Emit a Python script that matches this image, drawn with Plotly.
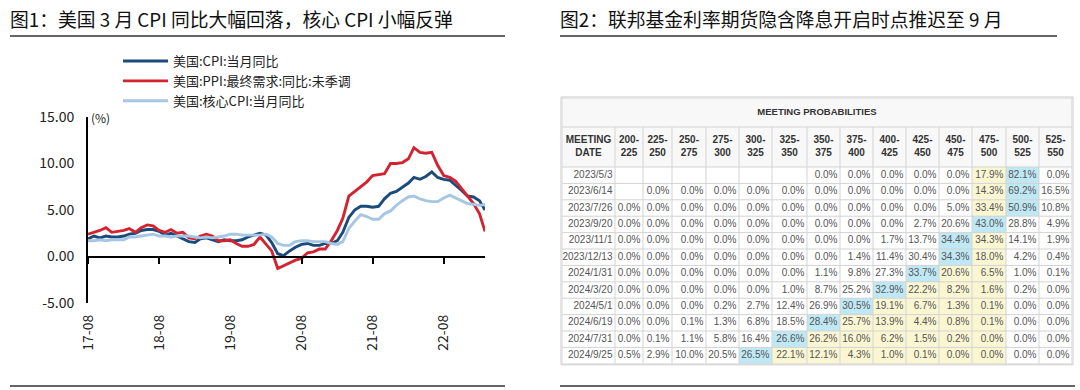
import plotly.graph_objects as go
import pandas as pd

# ---------------- Left chart data (monthly, 2017-08 .. 2023-03) ----------------
start_month = "2017-08-01"
cpi = [1.9, 2.2, 2.0, 2.2, 2.1,
       2.1, 2.2, 2.4, 2.5, 2.8, 2.9, 2.9, 2.7, 2.3, 2.5, 2.2, 1.9,
       1.6, 1.5, 1.9, 2.0, 1.8, 1.6, 1.8, 1.7, 1.7, 1.8, 2.1, 2.3,
       2.5, 2.3, 1.5, 0.3, 0.1, 0.6, 1.0, 1.3, 1.4, 1.2, 1.2, 1.4,
       1.4, 1.7, 2.6, 4.2, 5.0, 5.4, 5.4, 5.3, 5.4, 6.2, 6.8, 7.0,
       7.5, 7.9, 8.5, 8.3, 8.6, 9.1, 8.5, 8.3, 8.2, 7.7, 7.1, 6.5,
       6.4, 6.0, 5.0]
ppi = [2.4, 2.6, 2.8, 3.1, 2.6,
       2.7, 2.8, 3.0, 2.6, 3.1, 3.4, 3.3, 2.8, 2.6, 2.9, 2.5, 2.6,
       2.0, 1.9, 2.2, 2.4, 2.2, 1.7, 1.7, 1.8, 1.4, 1.1, 1.1, 1.3,
       2.1, 1.3, 0.6, -1.3, -1.0, -0.7, -0.4, -0.2, 0.4, 0.5, 0.8, 0.8,
       1.7, 2.8, 4.1, 6.5, 7.0, 7.6, 8.0, 8.7, 8.8, 8.9, 10.0, 10.0,
       10.1, 10.5, 11.7, 11.2, 11.1, 11.2, 9.8, 8.7, 8.5, 8.1, 7.3, 6.5,
       5.7, 4.6, 2.7]
core = [1.7, 1.7, 1.8, 1.7, 1.8,
        1.8, 1.8, 2.1, 2.1, 2.2, 2.3, 2.4, 2.2, 2.2, 2.1, 2.2, 2.2,
        2.2, 2.1, 2.0, 2.1, 2.0, 2.1, 2.2, 2.4, 2.4, 2.3, 2.3, 2.3,
        2.3, 2.4, 2.1, 1.4, 1.2, 1.2, 1.6, 1.7, 1.7, 1.6, 1.6, 1.6,
        1.4, 1.3, 1.6, 3.0, 3.8, 4.5, 4.3, 4.0, 4.0, 4.6, 4.9, 5.5,
        6.0, 6.4, 6.5, 6.2, 6.0, 5.9, 5.9, 6.3, 6.6, 6.3, 6.0, 5.7,
        5.6, 5.5, 5.6]
series_names = ["美国:CPI:当月同比", "美国:PPI:最终需求:同比:未季调", "美国:核心CPI:当月同比"]
x_tick_vals = ["2017-08-01", "2018-08-01", "2019-08-01", "2020-08-01", "2021-08-01", "2022-08-01"]
x_tick_text = ["17-08", "18-08", "19-08", "20-08", "21-08", "22-08"]
y_tick_vals = [-5, 0, 5, 10, 15]
y_tick_text = ["-5.00", "0.00", "5.00", "10.00", "15.00"]

# ---------------- Right table data ----------------
table_title = "MEETING PROBABILITIES"
first_col_header = "MEETING<br>DATE"
rate_bins = ["200-225", "225-250", "250-275", "275-300", "300-325", "325-350", "350-375",
             "375-400", "400-425", "425-450", "450-475", "475-500", "500-525", "525-550"]
meeting_dates = ["2023/5/3", "2023/6/14", "2023/7/26", "2023/9/20", "2023/11/1", "2023/12/13",
                 "2024/1/31", "2024/3/20", "2024/5/1", "2024/6/19", "2024/7/31", "2024/9/25"]
prob_rows = [
    [None, None, None, None, None, None, 0.0, 0.0, 0.0, 0.0, 0.0, 17.9, 82.1, 0.0],
    [None, 0.0, 0.0, 0.0, 0.0, 0.0, 0.0, 0.0, 0.0, 0.0, 0.0, 14.3, 69.2, 16.5],
    [0.0, 0.0, 0.0, 0.0, 0.0, 0.0, 0.0, 0.0, 0.0, 0.0, 5.0, 33.4, 50.9, 10.8],
    [0.0, 0.0, 0.0, 0.0, 0.0, 0.0, 0.0, 0.0, 0.0, 2.7, 20.6, 43.0, 28.8, 4.9],
    [0.0, 0.0, 0.0, 0.0, 0.0, 0.0, 0.0, 0.0, 1.7, 13.7, 34.4, 34.3, 14.1, 1.9],
    [0.0, 0.0, 0.0, 0.0, 0.0, 0.0, 0.0, 1.4, 11.4, 30.4, 34.3, 18.0, 4.2, 0.4],
    [0.0, 0.0, 0.0, 0.0, 0.0, 0.0, 1.1, 9.8, 27.3, 33.7, 20.6, 6.5, 1.0, 0.1],
    [0.0, 0.0, 0.0, 0.0, 0.0, 1.0, 8.7, 25.2, 32.9, 22.2, 8.2, 1.6, 0.2, 0.0],
    [0.0, 0.0, 0.0, 0.2, 2.7, 12.4, 26.9, 30.5, 19.1, 6.7, 1.3, 0.1, 0.0, 0.0],
    [0.0, 0.0, 0.1, 1.3, 6.8, 18.5, 28.4, 25.7, 13.9, 4.4, 0.8, 0.1, 0.0, 0.0],
    [0.0, 0.1, 1.1, 5.8, 16.4, 26.6, 26.2, 16.0, 6.2, 1.5, 0.2, 0.0, 0.0, 0.0],
    [0.5, 2.9, 10.0, 20.5, 26.5, 22.1, 12.1, 4.3, 1.0, 0.1, 0.0, 0.0, 0.0, 0.0],
]
current_bin = "475-500"

title_left = "图1：美国 3 月 CPI 同比大幅回落，核心 CPI 小幅反弹"
title_right = "图2：联邦基金利率期货隐含降息开启时点推迟至 9 月"

# ---------------- Figure helpers ----------------
W, H = 1080, 390
def px(x):
    return x / W
def py(y):
    return 1 - y / H

dates = pd.date_range(start_month, periods=len(cpi), freq="MS")
colors = ["#1A4B7A", "#D42330", "#A6C6E4"]

fig = go.Figure()
for vals, name, col in [(cpi, series_names[0], colors[0]),
                        (ppi, series_names[1], colors[1]),
                        (core, series_names[2], colors[2])]:
    fig.add_trace(go.Scatter(x=dates, y=vals, name=name, mode="lines",
                             line=dict(color=col, width=2.9), hoverinfo="skip"))

# helper (invisible) trace so the zero-line axis is drawn
fig.add_trace(go.Scatter(x=[dates[0]], y=[0], xaxis="x2", yaxis="y", mode="markers",
                         marker=dict(opacity=0), showlegend=False, hoverinfo="skip"))

ydom = [py(303), py(117)]
xdom = [px(88), px(485)]
ymin, ymax = -5, 15
zero_pos = ydom[0] + (0 - ymin) / (ymax - ymin) * (ydom[1] - ydom[0])

tick_font = dict(family="Noto Sans CJK SC", size=14, color="#222")

# ---------------- Table geometry (style only) ----------------
col_widths = [53, 28, 29, 34, 33, 33, 35, 33, 33, 33, 33, 33, 34, 33, 33]
row_heights = [29, 40] + [16.4] * len(meeting_dates)
col_edges = [0]
for w in col_widths:
    col_edges.append(col_edges[-1] + w)
row_edges = [0]
for h in row_heights:
    row_edges.append(row_edges[-1] + h)
tbl_left, tbl_top = 562, 98
tbl_w, tbl_h = col_edges[-1], row_edges[-1]

fig.update_layout(
    width=W, height=H,
    margin=dict(l=0, r=0, t=0, b=0, autoexpand=False),
    paper_bgcolor="white", plot_bgcolor="white",
    showlegend=True,
    legend=dict(x=px(118), y=py(46), xanchor="left", yanchor="top",
                font=dict(family="Noto Sans CJK SC", size=13, color="#222"),
                bgcolor="rgba(0,0,0,0)", itemwidth=45, tracegroupgap=0),
    xaxis=dict(domain=xdom, anchor="y", type="date",
               range=[dates[0], dates[-1]],
               tickvals=x_tick_vals, ticktext=x_tick_text, tickangle=-90,
               showline=False, showgrid=False, zeroline=False, ticks="",
               ticklabelstandoff=8, tickfont=tick_font, automargin=False),
    xaxis2=dict(overlaying="x", matches="x", anchor="free", position=zero_pos,
                type="date", tickvals=x_tick_vals, showticklabels=False,
                showline=True, linecolor="#000", linewidth=2,
                ticks="outside", ticklen=6, tickwidth=2, tickcolor="#000",
                showgrid=False, zeroline=False, automargin=False),
    yaxis=dict(domain=ydom, anchor="x", range=[ymin, ymax],
               tickvals=y_tick_vals, ticktext=y_tick_text,
               showline=True, linecolor="#000", linewidth=2,
               showgrid=False, zeroline=False, ticks="",
               ticklabelstandoff=9, tickfont=tick_font, automargin=False),
    xaxis3=dict(domain=[px(tbl_left), px(tbl_left + tbl_w)], anchor="y3",
                range=[0, tbl_w], visible=False, fixedrange=True),
    yaxis3=dict(domain=[py(tbl_top + tbl_h), py(tbl_top)], anchor="x3",
                range=[tbl_h, 0], visible=False, fixedrange=True),
)

# (%) unit label
fig.add_annotation(x=px(89), y=py(117), xref="paper", yref="paper", text="(%)",
                   showarrow=False, xanchor="left", yanchor="middle",
                   font=dict(family="Noto Sans CJK SC", size=12, color="#222"))

# titles
for txt, x0 in [(title_left, 8), (title_right, 558)]:
    fig.add_annotation(x=px(x0), y=py(18), xref="paper", yref="paper", text=txt,
                       showarrow=False, xanchor="left", yanchor="middle",
                       font=dict(family="Noto Sans CJK SC", size=18.8, color="#111"))

# separator lines
for (x0, x1, y) in [(10, 505, 36), (10, 505, 386), (560, 1057, 36), (560, 1075, 386)]:
    fig.add_shape(type="line", xref="paper", yref="paper",
                  x0=px(x0), x1=px(x1), y0=py(y), y1=py(y),
                  line=dict(color="#333", width=1.5))

# ---------------- Table as heatmap + text ----------------
WHITE, YELLOW, CYAN, GRAY = 0, 1, 2, 3
cur_idx = rate_bins.index(current_bin)
z = [[GRAY] * len(col_widths), [GRAY] * len(col_widths)]
for r in prob_rows:
    nums = [v if v is not None else -1 for v in r]
    mx = nums.index(max(nums))
    lo, hi = sorted([mx, cur_idx])
    row = [WHITE]
    for j in range(len(rate_bins)):
        if j == mx:
            row.append(CYAN)
        elif lo <= j <= hi:
            row.append(YELLOW)
        else:
            row.append(WHITE)
    z.append(row)

cs = [[0, "#FFFFFF"], [0.1667, "#FFFFFF"], [0.1667, "#FBF6D2"], [0.5, "#FBF6D2"],
      [0.5, "#BFE8F5"], [0.8333, "#BFE8F5"], [0.8333, "#F8F8F8"], [1, "#F8F8F8"]]
fig.add_trace(go.Heatmap(x=col_edges, y=row_edges, z=z, zmin=0, zmax=3,
                         colorscale=cs, showscale=False, hoverinfo="skip",
                         xaxis="x3", yaxis="y3"))

# grid lines
gx, gy = [], []
for ye in row_edges:
    gx += [0, tbl_w, None]
    gy += [ye, ye, None]
for xe in col_edges:
    y_start = 0 if xe in (0, tbl_w) else row_edges[1]
    gx += [xe, xe, None]
    gy += [y_start, tbl_h, None]
fig.add_trace(go.Scatter(x=gx, y=gy, mode="lines", line=dict(color="#D3D3D3", width=1),
                         xaxis="x3", yaxis="y3", showlegend=False, hoverinfo="skip",
                         cliponaxis=False))

# title row text
hfont = dict(family="Liberation Sans, Arial", size=9.5, color="#333")
fig.add_trace(go.Scatter(x=[tbl_w / 2], y=[row_heights[0] / 2],
                         text=["<b>" + table_title + "</b>"], mode="text",
                         textposition="middle center", textfont=hfont,
                         xaxis="x3", yaxis="y3", showlegend=False, hoverinfo="skip",
                         cliponaxis=False))
# column headers
col_centers = [(col_edges[i] + col_edges[i + 1]) / 2 for i in range(len(col_widths))]
hdr_text = ["<b>" + first_col_header + "</b>"] + \
           ["<b>" + b.replace("-", "-<br>") + "</b>" for b in rate_bins]
fig.add_trace(go.Scatter(x=col_centers, y=[(row_edges[1] + row_edges[2]) / 2] * len(col_centers),
                         text=hdr_text, mode="text", textposition="middle center",
                         textfont=dict(family="Liberation Sans, Arial", size=10, color="#333"),
                         xaxis="x3", yaxis="y3", showlegend=False, hoverinfo="skip",
                         cliponaxis=False))
# data cells (right aligned)
cx, cy, ct = [], [], []
for i, (d, r) in enumerate(zip(meeting_dates, prob_rows)):
    yc = (row_edges[i + 2] + row_edges[i + 3]) / 2
    cells = [d] + ["" if v is None else f"{v:.1f}%" for v in r]
    for j, t in enumerate(cells):
        cx.append(col_edges[j + 1] - 2.5)
        cy.append(yc)
        ct.append(t)
fig.add_trace(go.Scatter(x=cx, y=cy, text=ct, mode="text", textposition="middle left",
                         textfont=dict(family="Liberation Sans, Arial", size=10, color="#555"),
                         xaxis="x3", yaxis="y3", showlegend=False, hoverinfo="skip",
                         cliponaxis=False))

# table outer shadow border
fig.add_shape(type="rect", xref="paper", yref="paper",
              x0=px(tbl_left - 1), x1=px(tbl_left + tbl_w + 1),
              y0=py(tbl_top + tbl_h + 1), y1=py(tbl_top - 1),
              line=dict(color="#C9C9C9", width=1), layer="below")

fig.write_html("out.html",
               config={"displayModeBar": False},
               post_script="document.body.style.margin='0';document.body.style.overflow='hidden';")
